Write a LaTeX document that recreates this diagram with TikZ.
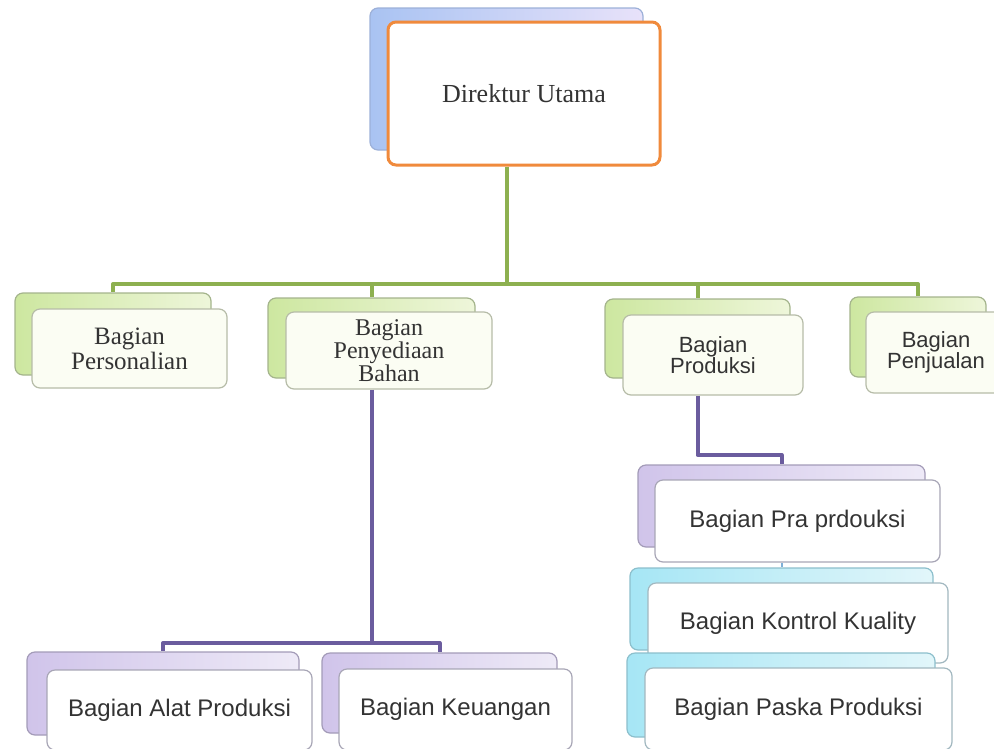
\documentclass[tikz,border=0pt]{standalone}
\usepackage{fontspec}
\setmainfont{Liberation Serif}
\setsansfont{Liberation Sans}
\usepackage{tikz}

\definecolor{blueedge}{HTML}{9CB0D8}
\definecolor{blueleft}{HTML}{A9C3F2}
\definecolor{blueright}{HTML}{E8E2FA}
\definecolor{orgline}{HTML}{F08A3C}
\definecolor{grnedge}{HTML}{A4B48C}
\definecolor{grnleft}{HTML}{CDE7A0}
\definecolor{grnright}{HTML}{EEF6DA}
\definecolor{grnfront}{HTML}{FBFDF3}
\definecolor{grnfedge}{HTML}{B6BCA8}
\definecolor{grnline}{HTML}{8DB050}
\definecolor{purpedge}{HTML}{A39BB8}
\definecolor{purpleft}{HTML}{D0C4EA}
\definecolor{purpright}{HTML}{EEEAF7}
\definecolor{purpfedge}{HTML}{A8A6B6}
\definecolor{purpline}{HTML}{6B5C9E}
\definecolor{cyanedge}{HTML}{8CBFCC}
\definecolor{cyanleft}{HTML}{A6E6F5}
\definecolor{cyanright}{HTML}{E2F6FA}
\definecolor{cyanfedge}{HTML}{A2B8C0}
\definecolor{cyanline}{HTML}{7FB0D8}
\definecolor{txt}{HTML}{333333}

\begin{document}
\begin{tikzpicture}[x=1pt,y=-1pt,
	box/.style={shape=rectangle,rounded corners=8pt,inner sep=0pt,line width=1.2pt,text=txt,align=center},
	blueback/.style={box,draw=blueedge,left color=blueleft,right color=blueright},
	orgfront/.style={box,draw=orgline,fill=white,line width=3pt},
	grnback/.style={box,draw=grnedge,left color=grnleft,right color=grnright},
	grnfront/.style={box,draw=grnfedge,fill=grnfront},
	purpback/.style={box,draw=purpedge,left color=purpleft,right color=purpright},
	purpfront/.style={box,draw=purpfedge,fill=white},
	cyanback/.style={box,draw=cyanedge,left color=cyanleft,right color=cyanright},
	cyanfront/.style={box,draw=cyanfedge,fill=white},
	sertext/.style={font=\rmfamily\fontsize{25}{25}\selectfont},
	sanstext/.style={font=\sffamily\fontsize{22}{20}\selectfont},
	bigsans/.style={font=\sffamily\fontsize{24}{26}\selectfont},
	grnwire/.style={draw=grnline,line width=4pt,line join=round},
	purpwire/.style={draw=purpline,line width=4pt,line join=round},
	cyanwire/.style={draw=cyanline,line width=2pt}]

	\useasboundingbox (0,0) rectangle (994,748);
	\clip (0,0) rectangle (994,748);

	\node[blueback,minimum width=273pt,minimum height=142pt] (dirback) at (506.5,79) {};
	\node[orgfront,sertext,font=\rmfamily\fontsize{26}{28}\selectfont,minimum width=272pt,minimum height=143pt] (dir) at (524,93.5) {Direktur Utama};

	\node[grnback,minimum width=196pt,minimum height=82pt] (persback) at (113,334) {};
	\node[grnfront,sertext,minimum width=195pt,minimum height=79pt] (pers) at (129.5,348.5) {Bagian\\Personalian};
	\node[grnback,minimum width=207pt,minimum height=80pt] (penback) at (371.5,338) {};
	\node[grnfront,sertext,font=\rmfamily\fontsize{24}{23}\selectfont,minimum width=206pt,minimum height=77pt] (pen) at (389,350.5) {Bagian\\Penyediaan\\Bahan};
	\node[grnback,minimum width=185pt,minimum height=79pt] (prodback) at (697.5,338.5) {};
	\node[grnfront,sanstext,minimum width=180pt,minimum height=80pt] (prod) at (713,355) {Bagian\\Produksi};
	\node[grnback,minimum width=136pt,minimum height=80pt] (jualback) at (918,337) {};
	\node[grnfront,sanstext,minimum width=140pt,minimum height=81pt] (jual) at (936,352.5) {Bagian\\Penjualan};

	\node[purpback,minimum width=272pt,minimum height=83pt] (alatback) at (163,693.5) {};
	\node[purpfront,bigsans,minimum width=265pt,minimum height=80pt] (alat) at (179.5,710) {Bagian Alat Produksi};
	\node[purpback,minimum width=235pt,minimum height=80pt] (uangback) at (439.5,693) {};
	\node[purpfront,bigsans,minimum width=233pt,minimum height=81pt] (uang) at (455.5,709.5) {Bagian Keuangan};

	\node[purpback,minimum width=287pt,minimum height=82pt] (praback) at (781.5,506) {};
	\node[purpfront,bigsans,minimum width=285pt,minimum height=82pt] (pra) at (797.5,521) {Bagian Pra prdouksi};
	\node[cyanback,minimum width=303pt,minimum height=82pt] (kontrolback) at (781.5,609) {};
	\node[cyanfront,bigsans,minimum width=300pt,minimum height=80pt] (kontrol) at (798,623) {Bagian Kontrol Kuality};
	\node[cyanback,minimum width=308pt,minimum height=84pt] (paskaback) at (781,695) {};
	\node[cyanfront,bigsans,minimum width=307pt,minimum height=82pt] (paska) at (798.5,709) {Bagian Paska Produksi};

	\coordinate (gbus) at (506.5,284);
	\coordinate (pbus) at (371.5,643);
	\coordinate (rbus) at (697.5,455);

	\path[grnwire] (dirback.south |- dir.south) -- (gbus);
	\foreach \t in {persback,penback,prodback,jualback}
		\path[grnwire] (gbus) -| (\t.north);
	\path[purpwire] (penback.south |- pen.south) -- (pbus);
	\path[purpwire] (pbus) -| (alatback.north);
	\path[purpwire] (pbus) -| (uangback.north);
	\path[purpwire] (prodback.south |- prod.south) -- (rbus) -| (praback.north);
	\path[cyanwire] (praback.south |- pra.south) -- (kontrolback.north);
\end{tikzpicture}
\end{document}
